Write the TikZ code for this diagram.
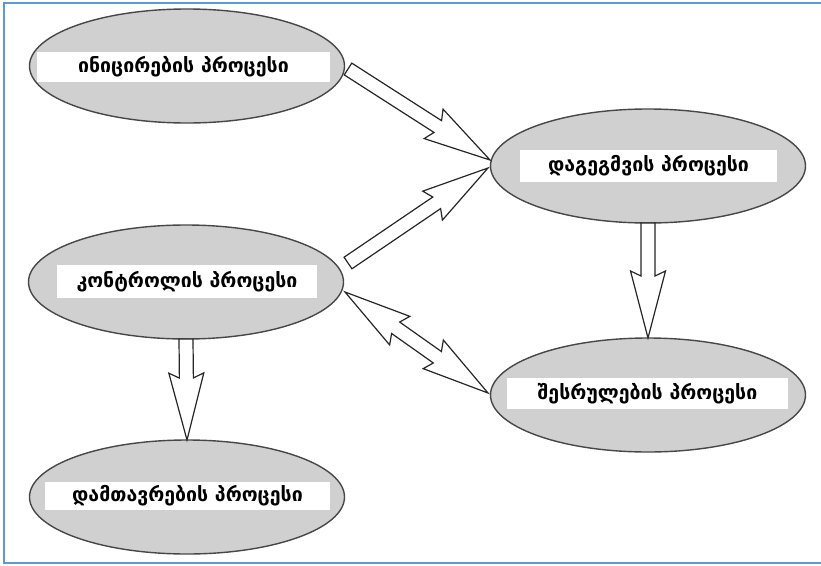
\documentclass[tikz,border=0pt]{standalone}
\usepackage{fontspec}
\newfontfamily\geofont{DejaVu Sans}
\usetikzlibrary{shapes.geometric,calc}
\definecolor{procfill}{RGB}{208,208,208}
\definecolor{frameblue}{RGB}{91,155,213}

% hollow block arrow from #1 (tail) to #2 (tip)
\newcommand\blockarrow[2]{%
  \draw[barrow] ($(#1)!7pt!90:(#2)$)
    -- ($(#2)!62pt!(#1)!7pt!-90:(#1)$)
    -- ($(#2)!67pt!(#1)!17.5pt!-90:(#1)$)
    -- (#2)
    -- ($(#2)!67pt!(#1)!17.5pt!90:(#1)$)
    -- ($(#2)!62pt!(#1)!7pt!90:(#1)$)
    -- ($(#1)!7pt!-90:(#2)$) -- cycle;}

% hollow block arrow with heads at both ends
\newcommand\dblarrow[2]{%
  \draw[barrow] (#1)
    -- ($(#1)!67pt!(#2)!17.5pt!90:(#2)$)
    -- ($(#1)!62pt!(#2)!7pt!90:(#2)$)
    -- ($(#2)!62pt!(#1)!7pt!-90:(#1)$)
    -- ($(#2)!67pt!(#1)!17.5pt!-90:(#1)$)
    -- (#2)
    -- ($(#2)!67pt!(#1)!17.5pt!90:(#1)$)
    -- ($(#2)!62pt!(#1)!7pt!90:(#1)$)
    -- ($(#1)!62pt!(#2)!7pt!-90:(#2)$)
    -- ($(#1)!67pt!(#2)!17.5pt!-90:(#2)$) -- cycle;}

\begin{document}
\begin{tikzpicture}[x=1pt,y=-1pt,
  proc/.style={ellipse, draw=black!72, line width=1.4pt, fill=procfill,
    minimum width=315pt, minimum height=114pt, inner sep=0pt, outer sep=0pt},
  tag/.style={fill=white, inner sep=0pt,
    font=\geofont\bfseries\fontsize{19.5}{22}\selectfont},
  barrow/.style={draw=black!85, fill=white, line width=1.2pt, line join=miter},
  frame/.style={draw=frameblue, line width=2pt}]

\useasboundingbox (0,0) rectangle (821,565);
\draw[frame] (823,3) -- (4,3) -- (4,563) -- (823,563);

% process ellipses
\node[proc] (e1) at (187,66) {};
\node[proc] (e2) at (648,166) {};
\node[proc] (e3) at (186,282) {};
\node[proc] (e4) at (648,395) {};
\node[proc] (e5) at (187,497) {};

% label boxes
\node[tag, minimum width=293pt, minimum height=30pt] (t1) at (183.5,67) {ინიცირების პროცესი};
\node[tag, minimum width=257pt, minimum height=32pt] (t2) at (648.5,166) {დაგეგმვის პროცესი};
\node[tag, minimum width=260pt, minimum height=33pt] (t3) at (187,281.5) {კონტროლის პროცესი};
\node[tag, minimum width=281pt, minimum height=31pt] (t4) at (647.5,393.5) {შესრულების პროცესი};
\node[tag, minimum width=285pt, minimum height=28pt] (t5) at (187.5,496) {დამთავრების პროცესი};

% arrow end points
\coordinate (a1s) at (348,69);
\coordinate (a1e) at (490,160);
\coordinate (a2s) at (348,263);
\coordinate (a2e) at (488,168);
\coordinate (a3s) at (345,292);
\coordinate (a3e) at (488,393);

\blockarrow{a1s}{a1e}
\blockarrow{a2s}{a2e}
\dblarrow{a3s}{a3e}
\blockarrow{e3.south}{e5.north}
\blockarrow{e2.south}{e4.north}
\end{tikzpicture}
\end{document}
